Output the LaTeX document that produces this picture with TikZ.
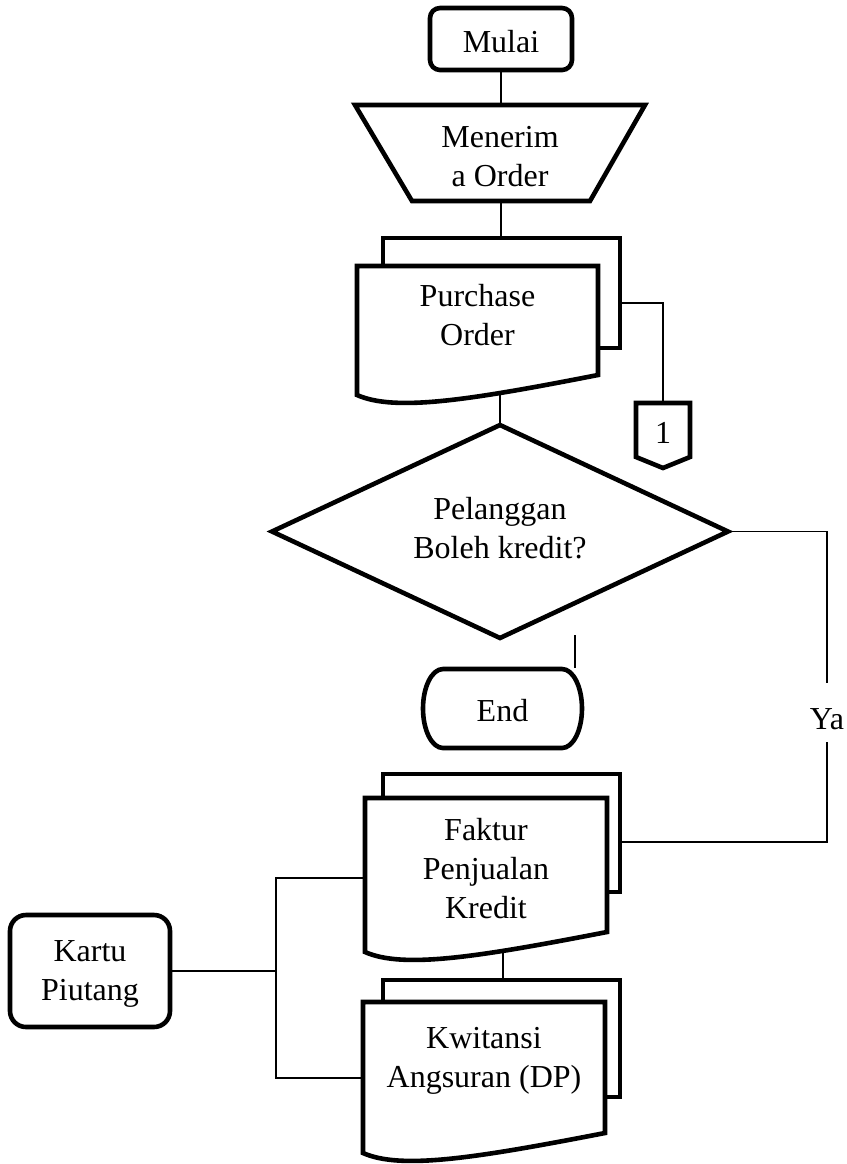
\documentclass[tikz,border=0pt]{standalone}
\usepackage{fontspec}
\setmainfont{Liberation Serif}
\usetikzlibrary{shapes.geometric,calc}
\newcommand\tx[2]{\raisebox{\dimexpr#1-4.9pt\relax}[0pt][0pt]{\begin{tabular}{@{}c@{}}#2\end{tabular}}}
\newcommand\multidoc[5]{%
  \draw[shp] ($(#1.north west)+(#2,0)$) -- ++(0,-#3) -- ($(#1.north east)+(#4,-#3)$)
     -- ($(#1.south east)+(#4,-#5)$) -- ($(#1.south east)+(0,-#5)$);
  \draw[shp] (#1.north west) -- (#1.north east) -- (#1.south east)
     .. controls ($(#1.south west)+(113,25)$) and ($(#1.south west)+(38,37)$) .. ($(#1.south west)+(0,20)$) -- cycle;
}
\tikzset{
  shp/.style={draw=black, line width=2.3pt},
  conn/.style={draw=black, line width=0.7pt},
  txt/.style={font=\fontsize{16}{19.5}\selectfont, inner sep=0pt, outer sep=0pt},
  term/.style={txt, shp, rounded corners=5pt},
}
\begin{document}
\begin{tikzpicture}[x=0.5pt,y=-0.5pt]
\useasboundingbox (0,0) rectangle (847,1164);

% nodes
\node[term, minimum width=71pt, minimum height=31pt] (mulai) at (501,39) {\tx{-2.25pt}{Mulai}};
\node[txt, minimum width=145pt, minimum height=48pt] (recv) at (500,153) {\tx{-2.5pt}{Menerim\\a Order}};
\node[txt, minimum width=120.5pt, minimum height=54.5pt] (po) at (477.5,320.5) {\tx{1.75pt}{Purchase\\Order}};
\node[txt, minimum width=27pt, minimum height=27pt] (c1) at (663,430) {\tx{-2.5pt}{1}};
\node[txt, shp, diamond, minimum width=228pt, minimum height=106.5pt] (dec) at (500,531.5) {\tx{0.75pt}{Pelanggan\\Boleh kredit?}};
\node[txt, minimum width=79.5pt, minimum height=39.5pt] (end) at (502.5,708.5) {\tx{-2pt}{End}};
\node[txt, minimum height=29.5pt] (ya) at (827,712.5) {\tx{-4.25pt}{Ya}};
\node[txt, minimum width=121pt, minimum height=67pt] (fak) at (486,865) {\tx{-3pt}{Faktur\\Penjualan\\Kredit}};
\node[txt, minimum width=121pt, minimum height=65.5pt] (kwi) at (484,1067.5) {\tx{4.25pt}{Kwitansi\\Angsuran (DP)}};
\node[term, rounded corners=8pt, minimum width=80pt, minimum height=56pt] (kartu) at (90,971) {\tx{-0.75pt}{Kartu\\Piutang}};

% manual input (inverted trapezoid)
\draw[shp] (recv.north west) -- (recv.north east) -- ($(recv.south east)+(-55,0)$) -- ($(recv.south west)+(57,0)$) -- cycle;

% document shapes
\multidoc{po}{26}{28}{22}{27}
\multidoc{fak}{18}{24}{13}{40}
\multidoc{kwi}{20}{22}{15}{36}

% off-page connector
\draw[shp] (c1.north west) -- (c1.north east) -- (c1.south east) -- ($(c1.south)+(0,11)$) -- (c1.south west) -- cycle;

% terminator End
\draw[shp] ($(end.north west)+(20,0)$) -- ($(end.north east)+(-20,0)$)
   arc[start angle=-90, end angle=90, x radius=20, y radius=39.5]
   -- ($(end.south west)+(20,0)$)
   arc[start angle=90, end angle=270, x radius=20, y radius=39.5] -- cycle;

% attach points
\coordinate (po-top) at (501,238);
\coordinate (po-bot) at (500,393);
\coordinate (po-right) at (620,303);
\coordinate (fak-right) at (620,842);
\coordinate (fak-bot) at (503,951);
\coordinate (fak-left) at (365,878);
\coordinate (kwi-top) at (503,980);
\coordinate (kwi-left) at (363,1078);
\coordinate (junc) at (276,971);
\coordinate (tidak-a) at (575,635);
\coordinate (tidak-b) at (575,668);

% connectors
\draw[conn] (mulai.south) -- (mulai.south |- recv.north);
\draw[conn] (mulai.south |- recv.south) -- (po-top);
\draw[conn] (po-right) -| (c1.north);
\draw[conn] (po-bot) -- (dec.north);
\draw[conn] (dec.east) -| (ya.north);
\draw[conn] (ya.south) |- (fak-right);
\draw[conn] (tidak-a) -- (tidak-b);
\draw[conn] (fak-bot) -- (kwi-top);
\draw[conn] (kartu.east) -- (junc);
\draw[conn] (fak-left) -| (junc) |- (kwi-left);
\end{tikzpicture}
\end{document}
